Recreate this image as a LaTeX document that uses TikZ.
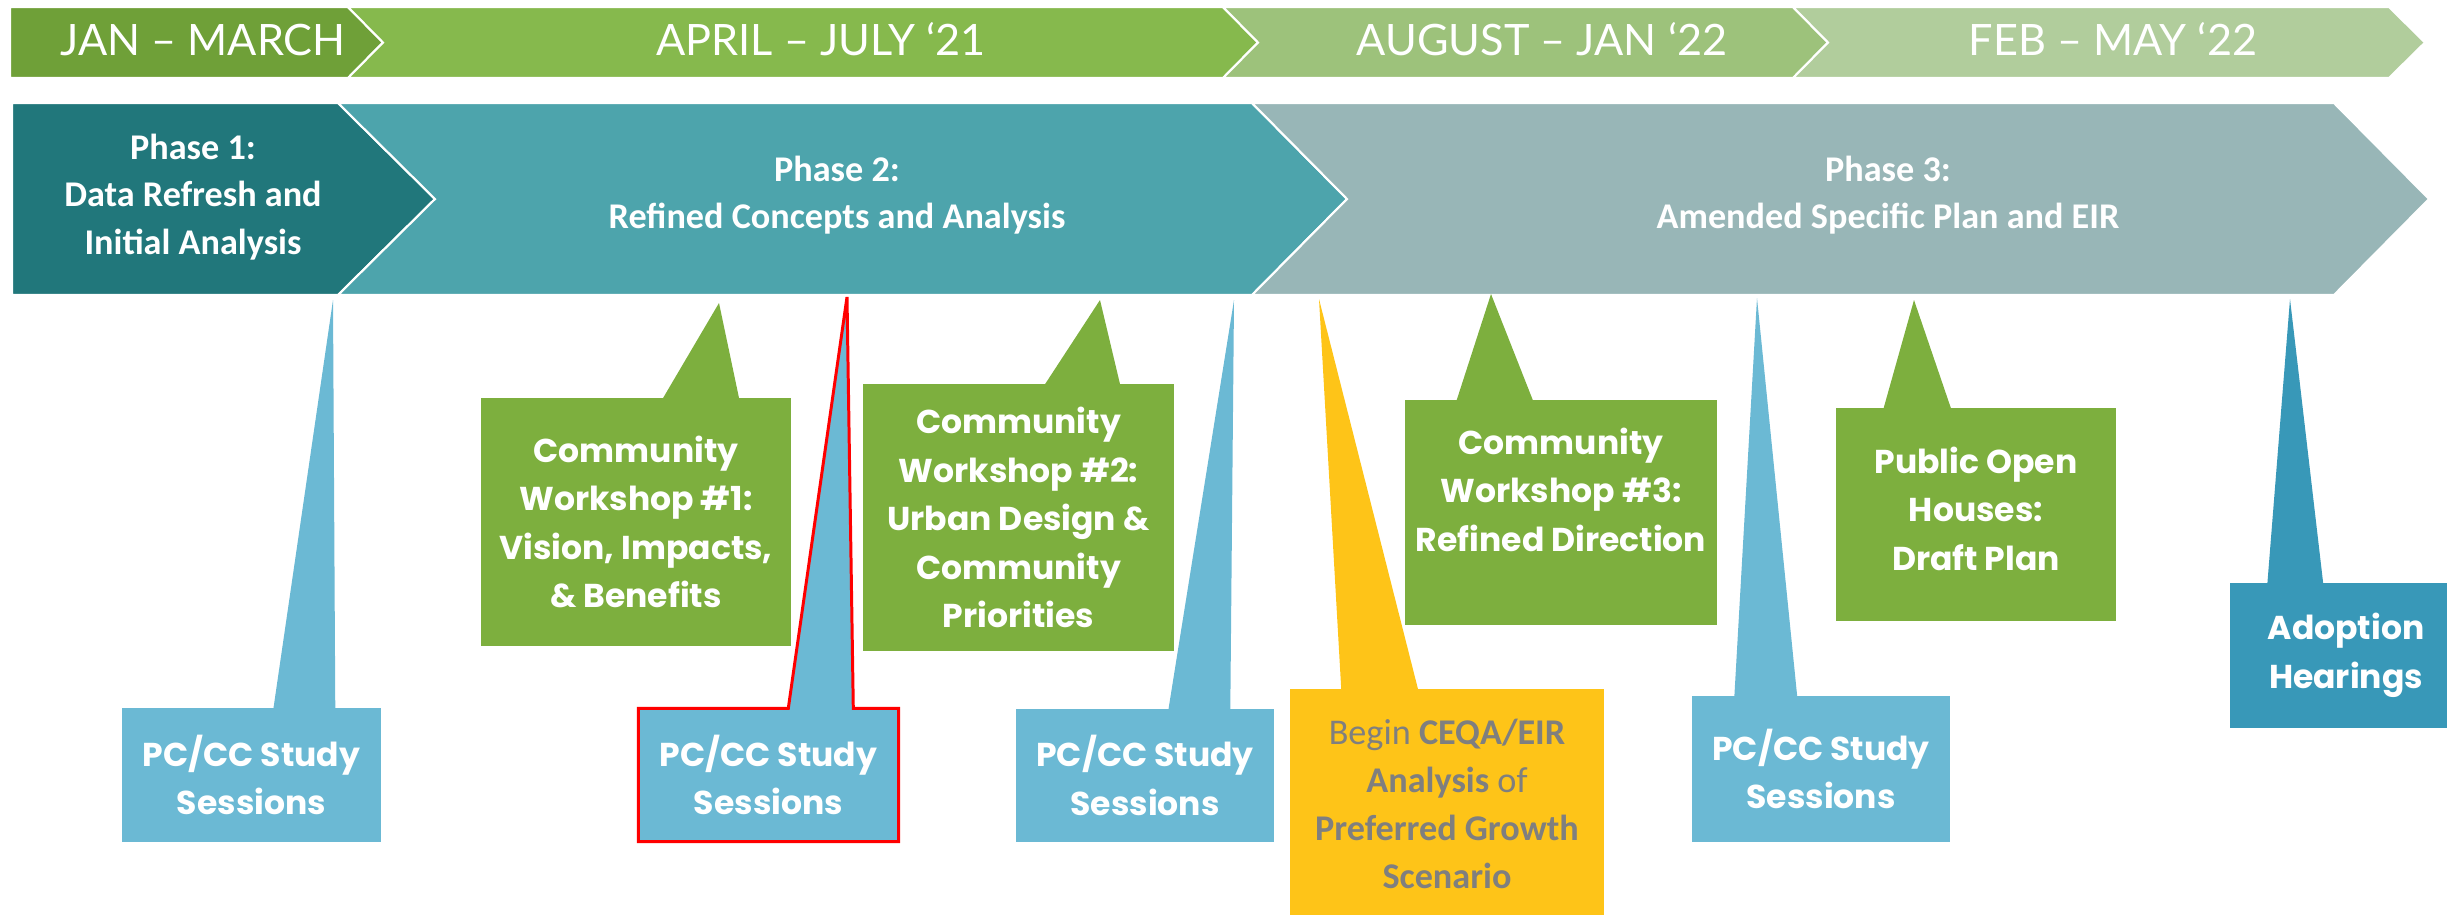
\documentclass[tikz,border=0pt]{standalone}
\usepackage{fontspec}
\setmainfont{Carlito}
\newfontfamily\monthfont{Lato}
\newfontfamily\boxfont{Poppins}
\usetikzlibrary{calc}
\definecolor{mon1}{RGB}{111, 160, 56}
\definecolor{mon2}{RGB}{134, 185, 77}
\definecolor{mon3}{RGB}{157, 194, 123}
\definecolor{mon4}{RGB}{177, 205, 156}
\definecolor{ph1}{RGB}{33, 119, 123}
\definecolor{ph2}{RGB}{77, 164, 172}
\definecolor{ph3}{RGB}{152, 182, 183}
\definecolor{wsgreen}{RGB}{125, 175, 62}
\definecolor{pcblue}{RGB}{107, 185, 212}
\definecolor{ceqayel}{RGB}{254, 196, 24}
\definecolor{adblue}{RGB}{56, 152, 184}
\definecolor{txtgrey}{RGB}{127, 127, 127}
\tikzset{
  chev/.style={draw=white, line width=0.6pt},
  month/.style={font=\monthfont\fontsize{12.3}{14}\selectfont, text=white, anchor=base},
  phasetxt/.style={font=\bfseries\fontsize{10.3}{13.5}\selectfont, text=white, align=center},
  callout/.style={rectangle, inner sep=0pt, minimum width=#1, align=center,
                  font=\boxfont\bfseries\fontsize{9.4}{13.8}\selectfont, text=white},
  callout/.default=2.59cm,
}

\begin{document}
\begin{tikzpicture}
  \useasboundingbox (0,0) rectangle (24.47,-9.14);

  % month band
  \filldraw[chev, fill=mon1] (0.10,-0.07) -- (3.48,-0.07) -- (3.83,-0.425) -- (3.48,-0.78) -- (0.10,-0.78) -- cycle;
  \filldraw[chev, fill=mon2] (3.48,-0.07) -- (12.23,-0.07) -- (12.58,-0.425) -- (12.23,-0.78) -- (3.48,-0.78) -- (3.83,-0.425) -- cycle;
  \filldraw[chev, fill=mon3] (12.23,-0.07) -- (17.93,-0.07) -- (18.28,-0.425) -- (17.93,-0.78) -- (12.23,-0.78) -- (12.58,-0.425) -- cycle;
  \filldraw[chev, fill=mon4] (17.93,-0.07) -- (23.89,-0.07) -- (24.25,-0.425) -- (23.89,-0.78) -- (17.93,-0.78) -- (18.28,-0.425) -- cycle;
  \node[month] (m1) at (2.03,-0.55) {JAN – MARCH};
  \node[month] (m2) at (8.21,-0.55) {APRIL – JULY ‘21};
  \node[month] (m3) at (15.42,-0.55) {AUGUST – JAN ‘22};
  \node[month] (m4) at (21.13,-0.55) {FEB – MAY ‘22};

  % phase band
  \filldraw[chev, fill=ph1] (0.12,-1.03) -- (3.38,-1.03) -- (4.35,-1.99) -- (3.38,-2.95) -- (0.12,-2.95) -- cycle;
  \filldraw[chev, fill=ph2] (3.38,-1.03) -- (12.52,-1.03) -- (13.47,-1.99) -- (12.52,-2.95) -- (3.38,-2.95) -- (4.35,-1.99) -- cycle;
  \filldraw[chev, fill=ph3] (12.52,-1.03) -- (23.34,-1.03) -- (24.29,-1.99) -- (23.34,-2.95) -- (12.52,-2.95) -- (13.47,-1.99) -- cycle;
  \node[phasetxt] (p1) at (1.93,-1.97) {Phase 1:\\Data Refresh and\\Initial Analysis};
  \node[phasetxt] (p2) at (8.37,-1.95) {Phase 2:\\Refined Concepts and Analysis};
  \node[phasetxt] (p3) at (18.88,-1.95) {Phase 3:\\Amended Specific Plan and EIR};

  % pointer tips
  \coordinate (pc1tip) at (3.33,-3.00);
  \coordinate (w1tip) at (7.19,-3.03);
  \coordinate (pc2tip) at (8.47,-2.97);
  \coordinate (w2tip) at (11.00,-3.00);
  \coordinate (pc3tip) at (12.34,-3.00);
  \coordinate (ceqatip) at (13.19,-2.99);
  \coordinate (w3tip) at (14.91,-2.94);
  \coordinate (pc4tip) at (17.57,-2.98);
  \coordinate (pohtip) at (19.14,-3.00);
  \coordinate (adtip) at (22.90,-2.99);

  % study sessions
  \node[callout, fill=pcblue, minimum height=1.34cm] (pc1) at (2.515,-7.75) {PC/CC Study\\Sessions};
  \fill[pcblue] ($(pc1.north west)+(1.52,-0.02)$) -- (pc1tip) -- ($(pc1.north west)+(2.14,-0.02)$) -- cycle;

  \node[callout, fill=pcblue, minimum height=1.32cm] (pc2) at (7.685,-7.75) {PC/CC Study\\Sessions};
  \fill[pcblue] ($(pc2.north west)+(1.50,-0.02)$) -- (pc2tip) -- ($(pc2.north west)+(2.15,-0.02)$) -- cycle;
  \draw[red, line width=0.85pt] (pc2.south west) -- (pc2.north west) -- ($(pc2.north west)+(1.50,0)$) -- (pc2tip)
    -- ($(pc2.north west)+(2.15,0)$) -- (pc2.north east) -- (pc2.south east) -- cycle;

  \node[callout=2.58cm, fill=pcblue, minimum height=1.33cm] (pc3) at (11.45,-7.755) {PC/CC Study\\Sessions};
  \fill[pcblue] ($(pc3.north west)+(1.53,-0.02)$) -- (pc3tip) -- ($(pc3.north west)+(2.15,-0.02)$) -- cycle;

  \node[callout=2.58cm, fill=pcblue, minimum height=1.46cm] (pc4) at (18.21,-7.69) {PC/CC Study\\Sessions};
  \fill[pcblue] ($(pc4.north west)+(0.43,-0.02)$) -- (pc4tip) -- ($(pc4.north west)+(1.06,-0.02)$) -- cycle;

  % workshops
  \node[callout=3.10cm, fill=wsgreen, minimum height=2.48cm] (w1) at (6.36,-5.22) {Community\\Workshop \#1:\\Vision, Impacts,\\\& Benefits};
  \fill[wsgreen] ($(w1.north west)+(1.82,-0.02)$) -- (w1tip) -- ($(w1.north west)+(2.59,-0.02)$) -- cycle;

  \node[callout=3.11cm, fill=wsgreen, minimum height=2.67cm] (w2) at (10.185,-5.175) {Community\\Workshop \#2:\\Urban Design \&\\Community\\Priorities};
  \fill[wsgreen] ($(w2.north west)+(1.82,-0.02)$) -- (w2tip) -- ($(w2.north west)+(2.58,-0.02)$) -- cycle;

  % text sits a little high in these two
  \node[callout=3.12cm, fill=wsgreen, minimum height=2.25cm, text depth=0.46cm] (w3) at (15.61,-5.125) {Community\\Workshop \#3:\\Refined Direction};
  \fill[wsgreen] ($(w3.north west)+(0.52,-0.02)$) -- (w3tip) -- ($(w3.north west)+(1.29,-0.02)$) -- cycle;

  \node[callout=2.80cm, fill=wsgreen, minimum height=2.13cm, text depth=0.12cm] (poh) at (19.76,-5.145) {Public Open\\Houses:\\Draft Plan};
  \fill[wsgreen] ($(poh.north west)+(0.48,-0.02)$) -- (pohtip) -- ($(poh.north west)+(1.16,-0.02)$) -- cycle;

  % CEQA / EIR
  \node[callout=3.14cm, fill=ceqayel, minimum height=2.30cm, text=txtgrey,
        font=\fontsize{10.3}{13.6}\selectfont] (ceqa) at (14.47,-8.04)
        {Begin \textbf{CEQA/EIR}\\\textbf{Analysis} of\\\textbf{Preferred Growth}\\\textbf{Scenario}};
  \fill[ceqayel] ($(ceqa.north west)+(0.52,-0.02)$) -- (ceqatip) -- ($(ceqa.north west)+(1.29,-0.02)$) -- cycle;

  % adoption
  \node[callout=2.32cm, fill=adblue, minimum height=1.45cm] (ad) at (23.46,-6.555) {Adoption\\Hearings};
  \fill[adblue] ($(ad.north west)+(0.38,-0.02)$) -- (adtip) -- ($(ad.north west)+(0.94,-0.02)$) -- cycle;
\end{tikzpicture}
\end{document}
